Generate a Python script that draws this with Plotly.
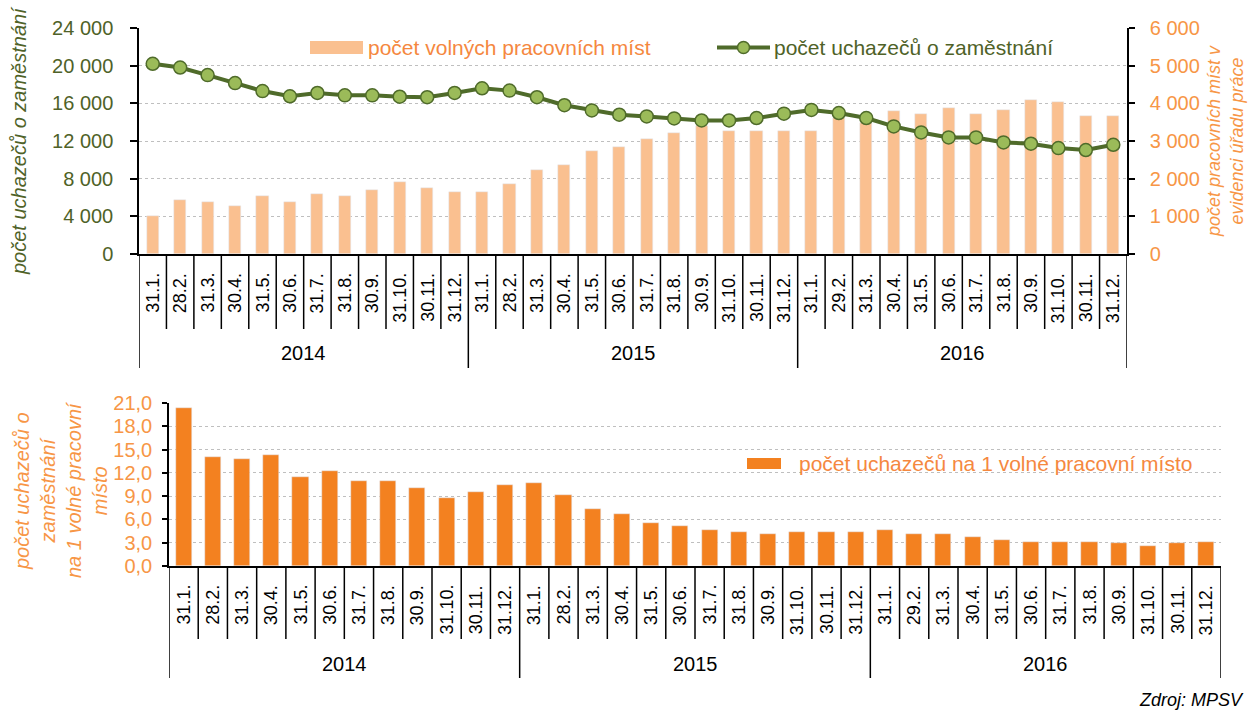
import plotly.graph_objects as go

# ---------------- data ----------------
years = ["2014", "2015", "2016"]
dates_2014 = ["31.1.", "28.2.", "31.3.", "30.4.", "31.5.", "30.6.", "31.7.", "31.8.", "30.9.", "31.10.", "30.11.", "31.12."]
dates_2015 = ["31.1.", "28.2.", "31.3.", "30.4.", "31.5.", "30.6.", "31.7.", "31.8.", "30.9.", "31.10.", "30.11.", "31.12."]
dates_2016 = ["31.1.", "29.2.", "31.3.", "30.4.", "31.5.", "30.6.", "31.7.", "31.8.", "30.9.", "31.10.", "30.11.", "31.12."]

# počet uchazečů o zaměstnání (left axis)
job_seekers = [20200, 19800, 19000, 18150, 17300, 16750, 17100, 16850, 16850, 16700, 16650, 17100,
               17600, 17350, 16650, 15800, 15250, 14790, 14610, 14400, 14180, 14180, 14440, 14900,
               15300, 14970, 14440, 13550, 12910, 12380, 12380, 11850, 11710, 11250, 11040, 11600]
# počet volných pracovních míst (right axis)
vacancies = [1020, 1440, 1390, 1280, 1540, 1390, 1590, 1540, 1700, 1900, 1750, 1650,
             1650, 1860, 2220, 2370, 2730, 2850, 3050, 3200, 3410, 3270, 3270, 3270,
             3260, 3620, 3490, 3790, 3720, 3880, 3720, 3830, 4100, 4030, 3670, 3670]
# počet uchazečů na 1 volné pracovní místo
ratio = [20.4, 14.0, 13.8, 14.3, 11.5, 12.3, 11.0, 11.0, 10.0, 8.7, 9.5, 10.5,
         10.7, 9.2, 7.4, 6.7, 5.6, 5.1, 4.7, 4.4, 4.1, 4.4, 4.4, 4.4,
         4.7, 4.1, 4.1, 3.7, 3.4, 3.1, 3.1, 3.1, 2.9, 2.6, 2.9, 3.1]

left_ticks = [0, 4000, 8000, 12000, 16000, 20000, 24000]
right_ticks = [0, 1000, 2000, 3000, 4000, 5000, 6000]
ratio_ticks = [0, 3, 6, 9, 12, 15, 18, 21]

# ---------------- derived ----------------
dates_by_year = [dates_2014, dates_2015, dates_2016]
period_dates = [d for ds in dates_by_year for d in ds]
period_years = [y for y, ds in zip(years, dates_by_year) for _ in ds]
keys = [f"{d} {y}" for d, y in zip(period_dates, period_years)]
N = len(keys)

W, H = 1250, 711
def PX(x): return x / W
def PY(y): return 1 - y / H

FONT = "Arial, Liberation Sans, sans-serif"
OLIVE = "#4F6228"
ORANGE_T = "#F79646"
LEG_OR = "#F5883F"
BAR_LIGHT = "#FAC090"
BAR_DARK = "#F38120"
LINE_C = "#4F6B2A"
MARK_C = "#9BBB59"
GRID_C = "#BFBFBF"

# plot-area pixel boxes
T_L, T_R, T_T, T_B = 139, 1127, 28, 254
B_L, B_R, B_T, B_B = 169, 1221, 403, 566

fig = go.Figure()
fig.add_trace(go.Bar(x=keys, y=vacancies, xaxis="x", yaxis="y", marker_color=BAR_LIGHT,
                     width=0.44, name="počet volných pracovních míst", showlegend=False))
fig.add_trace(go.Scatter(x=keys, y=job_seekers, xaxis="x", yaxis="y2", mode="lines+markers",
                         line=dict(color=LINE_C, width=4),
                         marker=dict(size=13, color=MARK_C, line=dict(color=LINE_C, width=1.5)),
                         name="počet uchazečů o zaměstnání", showlegend=False))
fig.add_trace(go.Bar(x=keys, y=ratio, xaxis="x2", yaxis="y3", marker_color=BAR_DARK,
                     width=0.55, name="počet uchazečů na 1 volné pracovní místo", showlegend=False))

axis_common = dict(showline=True, linecolor="black", linewidth=1.5, zeroline=False, fixedrange=True,
                   automargin=False)

fig.update_layout(
    width=W, height=H, margin=dict(l=0, r=0, t=0, b=0, pad=0, autoexpand=False),
    paper_bgcolor="white", plot_bgcolor="white",
    separators=", ",
    font=dict(family=FONT, size=18, color="black"),
    showlegend=False,
    bargap=0,
    xaxis=dict(domain=[PX(T_L), PX(T_R)], anchor="y", type="category", range=[-0.5, N - 0.5],
               showticklabels=False, ticks="", showgrid=False, **axis_common),
    yaxis=dict(domain=[PY(T_B), PY(T_T)], anchor="x", side="right", range=[0, 6000],
               tickvals=right_ticks, tickformat=",d", ticks="outside", ticklen=6, tickcolor="black",
               tickwidth=1.5, ticklabelstandoff=11,
               tickfont=dict(color=ORANGE_T, size=20), showgrid=True, gridcolor=GRID_C,
               griddash="dot", gridwidth=1, **axis_common),
    yaxis2=dict(overlaying="y", anchor="x", side="left", range=[0, 24000],
                tickvals=left_ticks, tickformat=",d", ticks="outside", ticklen=7, tickcolor="black",
                tickwidth=1.5, ticklabelstandoff=13,
                tickfont=dict(color=OLIVE, size=20), showgrid=False, **axis_common),
    xaxis2=dict(domain=[PX(B_L), PX(B_R)], anchor="y3", type="category", range=[-0.5, N - 0.5],
                showticklabels=False, ticks="", showgrid=False, **axis_common),
    yaxis3=dict(domain=[PY(B_B), PY(B_T)], anchor="x2", range=[0, 21], tickvals=ratio_ticks,
                tickformat=".1f", ticks="outside", ticklen=5, tickcolor="black", tickwidth=1.5,
                ticklabelstandoff=6,
                tickfont=dict(color=ORANGE_T, size=20), showgrid=True, gridcolor=GRID_C,
                griddash="dot", gridwidth=1, **axis_common),
)

shapes = []
annotations = []

def category_axis(xref, axis_y, sep_y, grp_y, lab_y, year_y):
    for i in range(N + 1):
        is_group = (i % 12 == 0)
        shapes.append(dict(type="line", xref=xref, yref="paper", x0=i - 0.5, x1=i - 0.5,
                           y0=PY(axis_y), y1=PY(grp_y if is_group else sep_y),
                           line=dict(color="black", width=1.5)))
    for k, d in zip(keys, period_dates):
        annotations.append(dict(x=k, xref=xref, y=PY(lab_y), yref="paper", text=d, showarrow=False,
                                textangle=-90, xanchor="center", yanchor="top",
                                font=dict(size=18, color="black", family=FONT)))
    for g, y in enumerate(years):
        annotations.append(dict(x=g * 12 + 5.5, xref=xref, y=PY(year_y), yref="paper", text=y,
                                showarrow=False, xanchor="center", yanchor="middle",
                                font=dict(size=20, color="black", family=FONT)))

category_axis("x", T_B, 329, 368, 271, 353)
category_axis("x2", B_B, 639, 678, 583, 664)

# legends (drawn manually in Excel style)
shapes.append(dict(type="rect", xref="paper", yref="paper", x0=PX(310), x1=PX(363), y0=PY(54), y1=PY(41),
                   fillcolor=BAR_LIGHT, line=dict(width=0)))
annotations.append(dict(x=PX(366), y=PY(47), xref="paper", yref="paper", text="počet volných pracovních míst",
                        showarrow=False, xanchor="left", yanchor="middle",
                        font=dict(size=21, color=LEG_OR, family=FONT)))
shapes.append(dict(type="line", xref="paper", yref="paper", x0=PX(717), x1=PX(770), y0=PY(47.5), y1=PY(47.5),
                   line=dict(color=LINE_C, width=4)))
shapes.append(dict(type="circle", xref="paper", yref="paper", x0=PX(737.5), x1=PX(749.5), y0=PY(53.5), y1=PY(41.5),
                   fillcolor=MARK_C, line=dict(color=LINE_C, width=1.5)))
annotations.append(dict(x=PX(772), y=PY(47), xref="paper", yref="paper", text="počet uchazečů o zaměstnání",
                        showarrow=False, xanchor="left", yanchor="middle",
                        font=dict(size=21, color=OLIVE, family=FONT)))
shapes.append(dict(type="rect", xref="paper", yref="paper", x0=PX(747), x1=PX(781), y0=PY(469), y1=PY(458),
                   fillcolor=BAR_DARK, line=dict(width=0)))
annotations.append(dict(x=PX(797), y=PY(463), xref="paper", yref="paper",
                        text="počet uchazečů na 1 volné pracovní místo",
                        showarrow=False, xanchor="left", yanchor="middle",
                        font=dict(size=21, color=LEG_OR, family=FONT)))

# axis titles
annotations.append(dict(x=PX(19), y=PY(141), xref="paper", yref="paper", text="počet uchazečů o zaměstnání",
                        showarrow=False, textangle=-90, xanchor="center", yanchor="middle",
                        font=dict(size=20, color=OLIVE, family=FONT, style="italic")))
annotations.append(dict(x=PX(1225), y=PY(141), xref="paper", yref="paper",
                        text="počet pracovních míst v<br>evidenci úřadu práce",
                        showarrow=False, textangle=-90, xanchor="center", yanchor="middle",
                        font=dict(size=18, color=ORANGE_T, family=FONT, style="italic")))
annotations.append(dict(x=PX(61), y=PY(490), xref="paper", yref="paper",
                        text="počet uchazečů o<br>zaměstnání<br>na 1 volné pracovní<br>místo",
                        showarrow=False, textangle=-90, xanchor="center", yanchor="middle",
                        font=dict(size=20, color=ORANGE_T, family=FONT, style="italic")))
annotations.append(dict(x=PX(1246), y=PY(700), xref="paper", yref="paper", text="Zdroj: MPSV",
                        showarrow=False, xanchor="right", yanchor="middle",
                        font=dict(size=18, color="black", family=FONT, style="italic")))

fig.update_layout(shapes=shapes, annotations=annotations)
fig.write_html("out.html", config={"displayModeBar": False},
               post_script="document.body.style.margin='0';document.body.style.overflow='hidden';")
